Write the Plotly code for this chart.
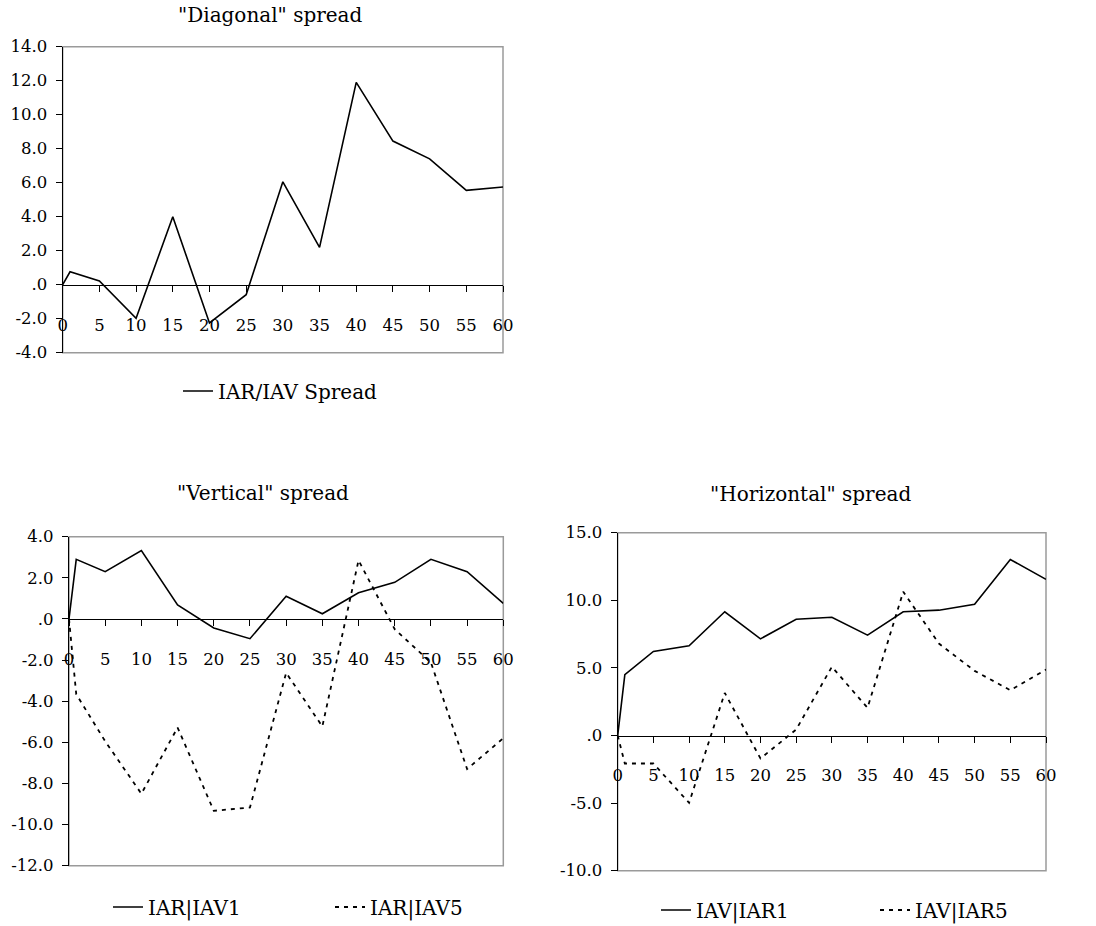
import plotly.graph_objects as go

W, H = 1096, 926
FONT = "DejaVu Serif"

# ---------------- data ----------------
horizon = [0, 1, 5, 10, 15, 20, 25, 30, 35, 40, 45, 50, 55, 60]
x_ticks = [0, 5, 10, 15, 20, 25, 30, 35, 40, 45, 50, 55, 60]

diag_spread = [0, 0.76, 0.22, -1.98, 4.0, -2.25, -0.59, 6.05, 2.2, 11.9, 8.45, 7.4, 5.55, 5.75]

vert_iav1 = [0, 2.9, 2.3, 3.33, 0.68, -0.44, -0.96, 1.1, 0.25, 1.27, 1.78, 2.9, 2.3, 0.76]
vert_iav5 = [0, -3.66, -5.95, -8.5, -5.28, -9.33, -9.17, -2.62, -5.23, 2.85, -0.5, -2.12, -7.3, -5.8]

horiz_iar1 = [0, 4.5, 6.22, 6.63, 9.15, 7.15, 8.6, 8.75, 7.42, 9.15, 9.27, 9.7, 13.02, 11.55]
horiz_iar5 = [0, -2.07, -2.07, -4.98, 3.15, -1.7, 0.44, 5.08, 2.05, 10.63, 6.8, 4.78, 3.35, 4.88]

diag_yticks = [-4, -2, 0, 2, 4, 6, 8, 10, 12, 14]
vert_yticks = [-12, -10, -8, -6, -4, -2, 0, 2, 4]
horiz_yticks = [-10, -5, 0, 5, 10, 15]

TICK_SIZE = 16.5
TEXT_SIZE = 20


def fmt(v):
    s = f"{v:.1f}"
    return ".0" if s in ("0.0", "-0.0") else s


def px_dom_x(a, b):
    return [a / W, b / W]


def px_dom_y(top, bottom):
    return [1 - bottom / H, 1 - top / H]


panels = [
    dict(xd=px_dom_x(62.7, 503), yd=px_dom_y(46.7, 352.7), yt=diag_yticks),
    dict(xd=px_dom_x(69, 503.3), yd=px_dom_y(536.7, 865.7), yt=vert_yticks),
    dict(xd=px_dom_x(617.7, 1046), yd=px_dom_y(532.7, 870.7), yt=horiz_yticks),
]

fig = go.Figure()

solid = dict(color="black", width=1.6)
dotted = dict(color="black", width=1.8, dash="4px,5px")

fig.add_trace(go.Scatter(x=horizon, y=diag_spread, mode="lines", line=solid,
                         name="IAR/IAV Spread", xaxis="x", yaxis="y", legend="legend"))
fig.add_trace(go.Scatter(x=horizon, y=vert_iav1, mode="lines", line=solid,
                         name="IAR|IAV1", xaxis="x2", yaxis="y2", legend="legend2"))
fig.add_trace(go.Scatter(x=horizon, y=vert_iav5, mode="lines", line=dotted,
                         name="IAR|IAV5", xaxis="x2", yaxis="y2", legend="legend2"))
fig.add_trace(go.Scatter(x=horizon, y=horiz_iar1, mode="lines", line=solid,
                         name="IAV|IAR1", xaxis="x3", yaxis="y3", legend="legend3"))
fig.add_trace(go.Scatter(x=horizon, y=horiz_iar5, mode="lines", line=dotted,
                         name="IAV|IAR5", xaxis="x3", yaxis="y3", legend="legend3"))

layout = dict(
    width=W, height=H,
    margin=dict(l=0, r=0, t=0, b=0, autoexpand=False),
    paper_bgcolor="white", plot_bgcolor="white",
    font=dict(family=FONT, size=TICK_SIZE, color="black"),
    showlegend=True,
    shapes=[], annotations=[],
)

for i, p in enumerate(panels):
    sfx = "" if i == 0 else str(i + 1)
    ymin, ymax = p["yt"][0], p["yt"][-1]
    zero_pos = p["yd"][0] + (0 - ymin) / (ymax - ymin) * (p["yd"][1] - p["yd"][0])
    layout["xaxis" + sfx] = dict(
        domain=p["xd"], range=[0, 60], anchor="free", position=zero_pos,
        tickvals=x_ticks, ticktext=[str(t) for t in x_ticks],
        ticks="outside", ticklen=6, tickwidth=1, tickcolor="black",
        showline=True, linecolor="black", linewidth=1.2,
        showgrid=False, zeroline=False, ticklabelstandoff=19, automargin=False,
        tickfont=dict(family=FONT, size=TICK_SIZE),
    )
    layout["yaxis" + sfx] = dict(
        domain=p["yd"], range=[ymin, ymax], anchor="x" + sfx,
        tickvals=p["yt"], ticktext=[fmt(v) for v in p["yt"]],
        ticks="outside", ticklen=6, tickwidth=1, tickcolor="black",
        showline=True, linecolor="black", linewidth=1.2,
        showgrid=False, zeroline=False, automargin=False, ticklabelstandoff=5,
        tickfont=dict(family=FONT, size=TICK_SIZE),
    )
    layout["shapes"].append(dict(
        type="rect", xref=("x" + sfx) + " domain", yref=("y" + sfx) + " domain",
        x0=0, x1=1, y0=0, y1=1, line=dict(color="#9a9a9a", width=1.5), layer="below",
    ))

layout["annotations"] = [
    dict(text='"Diagonal" spread', x=270 / W, y=1 - 15 / H, xref="paper", yref="paper",
         showarrow=False, font=dict(family=FONT, size=TEXT_SIZE), xanchor="center", yanchor="middle"),
    dict(text='"Vertical" spread', x=263 / W, y=1 - 493 / H, xref="paper", yref="paper",
         showarrow=False, font=dict(family=FONT, size=TEXT_SIZE), xanchor="center", yanchor="middle"),
    dict(text='"Horizontal" spread', x=810 / W, y=1 - 494 / H, xref="paper", yref="paper",
         showarrow=False, font=dict(family=FONT, size=TEXT_SIZE), xanchor="center", yanchor="middle"),
]

leg_common = dict(orientation="h", bgcolor="rgba(0,0,0,0)", borderwidth=0,
                  font=dict(family=FONT, size=TEXT_SIZE), xanchor="left", yanchor="middle",
                  itemclick=False, itemdoubleclick=False)
layout["legend"] = dict(leg_common, x=178 / W, y=1 - 391 / H)
layout["legend2"] = dict(leg_common, x=108 / W, y=1 - 907 / H, entrywidth=177)
layout["legend3"] = dict(leg_common, x=656 / W, y=1 - 910 / H, entrywidth=174)

fig.update_layout(**layout)
fig.write_html("out.html")
